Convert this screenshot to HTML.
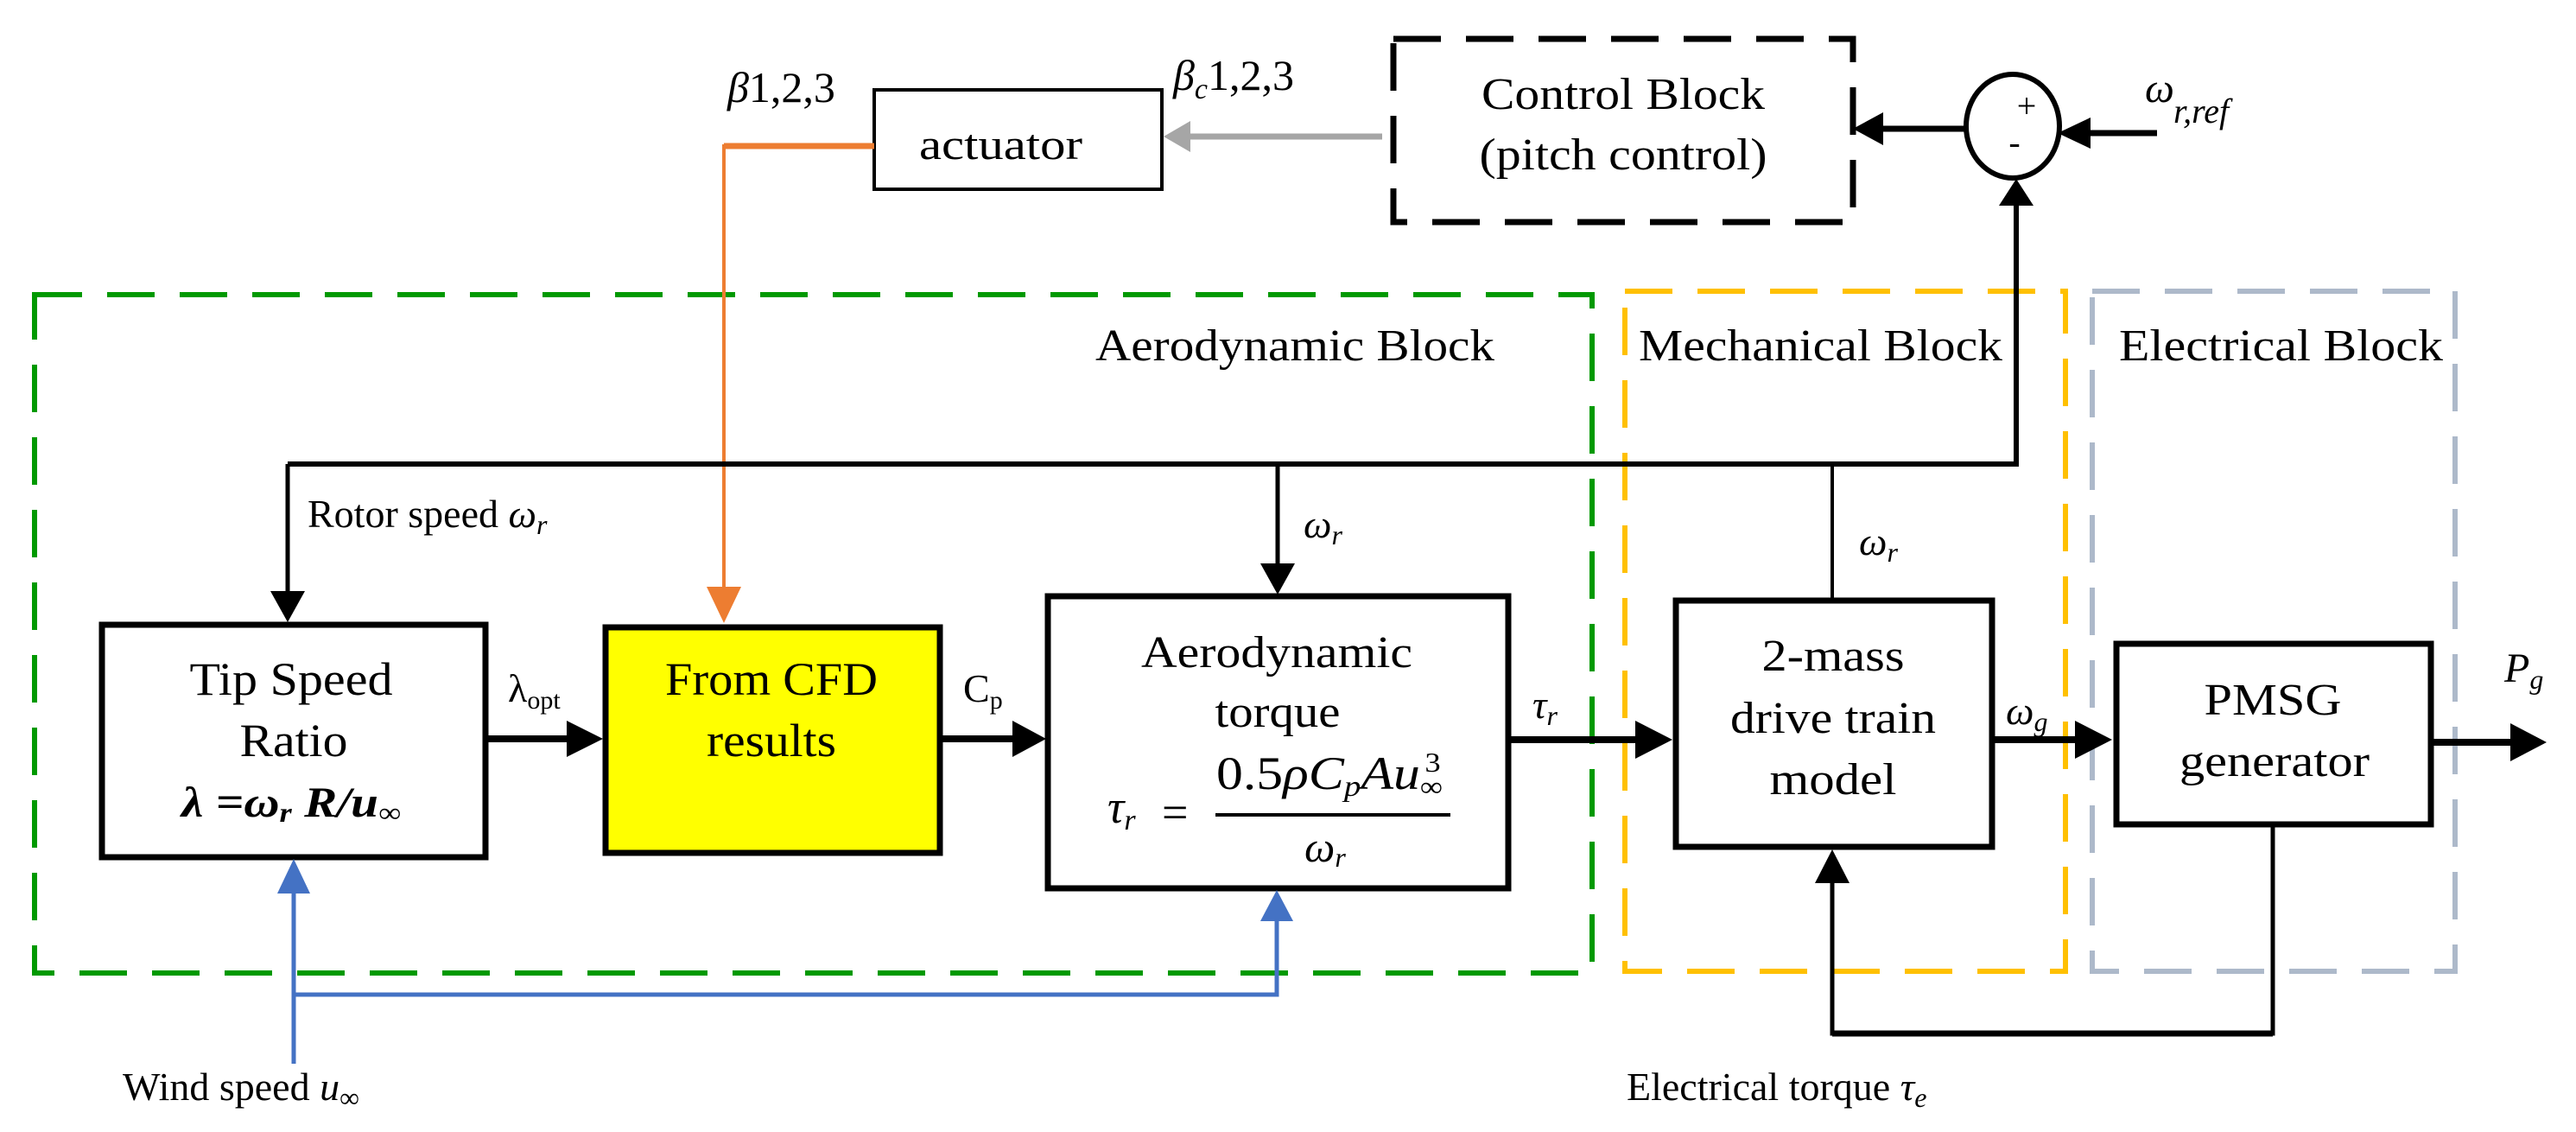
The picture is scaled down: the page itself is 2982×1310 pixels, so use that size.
<!DOCTYPE html>
<html><head><meta charset="utf-8"><style>html,body{margin:0;padding:0;background:#fff}svg{display:block}text{font-family:"Liberation Serif",serif;fill:#000}</style></head><body>
<svg width="2982" height="1310" viewBox="0 0 2982 1310" xmlns="http://www.w3.org/2000/svg">
<rect x="40" y="341" width="1803" height="785" fill="none" stroke="#009900" stroke-width="6" stroke-dasharray="55,29"/>
<rect x="1881" y="337" width="510" height="787" fill="none" stroke="#FFC000" stroke-width="6" stroke-dasharray="55,29"/>
<rect x="2422" y="337" width="420" height="787" fill="none" stroke="#ADB9CA" stroke-width="6" stroke-dasharray="55,29"/>
<rect x="1613" y="45" width="532" height="212" fill="none" stroke="#000" stroke-width="7" stroke-dasharray="55,29"/>
<text x="1879" y="126" font-size="52" text-anchor="middle" textLength="328" lengthAdjust="spacingAndGlyphs">Control Block</text>
<text x="1879" y="196" font-size="52" text-anchor="middle" textLength="333" lengthAdjust="spacingAndGlyphs">(pitch control)</text>
<text x="1268" y="417" font-size="52" textLength="462" lengthAdjust="spacingAndGlyphs">Aerodynamic Block</text>
<text x="1897" y="417" font-size="52" textLength="421" lengthAdjust="spacingAndGlyphs">Mechanical Block</text>
<text x="2453" y="417" font-size="52" textLength="375" lengthAdjust="spacingAndGlyphs">Electrical Block</text>

<rect x="1012" y="104" width="333" height="115" fill="#fff" stroke="#000" stroke-width="4"/>
<text x="1064" y="184" font-size="50" textLength="189" lengthAdjust="spacingAndGlyphs">actuator</text>
<text x="842" y="118" font-size="50"><tspan font-style="italic">β</tspan>1,2,3</text>
<text x="1358" y="104" font-size="50"><tspan font-style="italic">β</tspan><tspan font-style="italic" font-size="34" dy="10">c</tspan><tspan dy="-10">1,2,3</tspan></text>
<line x1="1600" y1="158" x2="1375" y2="158" stroke="#A6A6A6" stroke-width="7"/>
<polygon points="1347,158 1378,140 1378,176" fill="#A6A6A6"/>
<polyline points="1012,169 838,169 838,684" fill="none" stroke="#ED7D31" stroke-width="4"/>
<line x1="838" y1="169" x2="1012" y2="169" stroke="#ED7D31" stroke-width="7"/>
<polygon points="838,721 818,679 858,679" fill="#ED7D31"/>

<ellipse cx="2330" cy="146" rx="54" ry="60" fill="#fff" stroke="#000" stroke-width="6"/>
<text x="2346" y="136" font-size="40" text-anchor="middle">+</text>
<text x="2332" y="178" font-size="40" text-anchor="middle">-</text>
<line x1="2497" y1="154" x2="2410" y2="154" stroke="#000" stroke-width="7"/>
<polygon points="2382,154 2420,136 2420,172" fill="#000"/>
<line x1="2276" y1="149" x2="2180" y2="149" stroke="#000" stroke-width="7"/>
<polygon points="2145,149 2180,130 2180,168" fill="#000"/>
<text x="2483" y="118" font-size="48" font-style="italic">ω</text>
<text x="2516" y="142" font-size="40" font-style="italic">r,ref</text>

<polyline points="333,537 2334,537 2334,236" fill="none" stroke="#000" stroke-width="6"/>
<polygon points="2334,207 2314,238 2354,238" fill="#000"/>
<line x1="333" y1="537" x2="333" y2="690" stroke="#000" stroke-width="5"/>
<polygon points="333,720 313,684 353,684" fill="#000"/>
<line x1="1479" y1="537" x2="1479" y2="660" stroke="#000" stroke-width="5"/>
<polygon points="1479,688 1459,652 1499,652" fill="#000"/>
<line x1="2121" y1="537" x2="2121" y2="693" stroke="#000" stroke-width="4"/>
<text x="356" y="610" font-size="46">Rotor speed <tspan font-style="italic">ω</tspan><tspan font-style="italic" font-size="32" dy="8">r</tspan></text>
<text x="1509" y="622" font-size="46" font-style="italic">ω<tspan font-size="32" dy="8">r</tspan></text>
<text x="2152" y="642" font-size="46" font-style="italic">ω<tspan font-size="32" dy="8">r</tspan></text>

<rect x="118" y="723" width="444" height="269" fill="#fff" stroke="#000" stroke-width="7"/>
<text x="337" y="804" font-size="54" text-anchor="middle" textLength="235" lengthAdjust="spacingAndGlyphs">Tip Speed</text>
<text x="340" y="875" font-size="54" text-anchor="middle" textLength="125" lengthAdjust="spacingAndGlyphs">Ratio</text>
<text x="337" y="945" font-size="50" text-anchor="middle" font-weight="bold" font-style="italic" textLength="254" lengthAdjust="spacingAndGlyphs">λ =ω<tspan font-size="32" dy="6">r</tspan><tspan dy="-6"> R/u</tspan><tspan font-size="32" dy="6">∞</tspan></text>
<rect x="701" y="726" width="387" height="261" fill="#FFFF00" stroke="#000" stroke-width="7"/>
<text x="893" y="804" font-size="54" text-anchor="middle" textLength="246" lengthAdjust="spacingAndGlyphs">From CFD</text>
<text x="893" y="875" font-size="54" text-anchor="middle" textLength="150" lengthAdjust="spacingAndGlyphs">results</text>
<line x1="562" y1="855" x2="672" y2="855" stroke="#000" stroke-width="8"/>
<polygon points="698,855 656,834 656,876" fill="#000"/>
<text x="588" y="812" font-size="46">λ<tspan font-size="30" dy="8">opt</tspan></text>
<line x1="1088" y1="855" x2="1185" y2="855" stroke="#000" stroke-width="8"/>
<polygon points="1211,855 1172,834 1172,876" fill="#000"/>
<text x="1115" y="812" font-size="46">C<tspan font-size="30" dy="8">p</tspan></text>

<rect x="1213" y="690" width="533" height="338" fill="#fff" stroke="#000" stroke-width="7"/>
<text x="1478" y="772" font-size="52" text-anchor="middle" textLength="314" lengthAdjust="spacingAndGlyphs">Aerodynamic</text>
<text x="1479" y="841" font-size="52" text-anchor="middle" textLength="145" lengthAdjust="spacingAndGlyphs">torque</text>
<text x="1282" y="952" font-size="54" font-style="italic">τ<tspan font-size="34" dy="8">r</tspan></text>
<text x="1345" y="958" font-size="54">=</text>
<text x="1408" y="913" font-size="54" textLength="262" lengthAdjust="spacingAndGlyphs"><tspan>0.5</tspan><tspan font-style="italic">ρC</tspan><tspan font-style="italic" font-size="34" dy="8">p</tspan><tspan font-style="italic" dy="-8">Au</tspan><tspan font-size="32" dy="8">∞</tspan><tspan font-size="32" dx="-18" dy="-28">3</tspan></text>
<line x1="1407" y1="943" x2="1679" y2="943" stroke="#000" stroke-width="4"/>
<text x="1510" y="997" font-size="50" font-style="italic">ω<tspan font-size="32" dy="6">r</tspan></text>

<line x1="1746" y1="856" x2="1900" y2="856" stroke="#000" stroke-width="8"/>
<polygon points="1936,856 1893,834 1893,878" fill="#000"/>
<text x="1774" y="831" font-size="46" font-style="italic">τ<tspan font-size="32" dy="8">r</tspan></text>

<rect x="1940" y="695" width="366" height="285" fill="#fff" stroke="#000" stroke-width="7"/>
<text x="2122" y="776" font-size="52" text-anchor="middle" textLength="165" lengthAdjust="spacingAndGlyphs">2-mass</text>
<text x="2122" y="848" font-size="52" text-anchor="middle" textLength="238" lengthAdjust="spacingAndGlyphs">drive train</text>
<text x="2122" y="919" font-size="52" text-anchor="middle" textLength="147" lengthAdjust="spacingAndGlyphs">model</text>

<line x1="2306" y1="856" x2="2415" y2="856" stroke="#000" stroke-width="8"/>
<polygon points="2445,856 2402,834 2402,878" fill="#000"/>
<text x="2322" y="838" font-size="46" font-style="italic">ω<tspan font-size="32" dy="8">g</tspan></text>

<rect x="2450" y="745" width="364" height="209" fill="#fff" stroke="#000" stroke-width="7"/>
<text x="2631" y="827" font-size="52" text-anchor="middle" textLength="159" lengthAdjust="spacingAndGlyphs">PMSG</text>
<text x="2633" y="898" font-size="52" text-anchor="middle" textLength="220" lengthAdjust="spacingAndGlyphs">generator</text>
<line x1="2814" y1="859" x2="2915" y2="859" stroke="#000" stroke-width="8"/>
<polygon points="2948,859 2906,837 2906,881" fill="#000"/>
<text x="2899" y="789" font-size="48" font-style="italic">P<tspan font-size="32" dy="8">g</tspan></text>

<polyline points="2631,954 2631,1196 2121,1196 2121,1015" fill="none" stroke="#000" stroke-width="5"/>
<line x1="2121" y1="1196" x2="2631" y2="1196" stroke="#000" stroke-width="7"/>
<polygon points="2121,983 2101,1022 2141,1022" fill="#000"/>
<text x="1883" y="1273" font-size="46">Electrical torque <tspan font-style="italic">τ</tspan><tspan font-style="italic" font-size="32" dy="8">e</tspan></text>

<polyline points="340,1231 340,1151 1478,1151 1478,1060" fill="none" stroke="#4472C4" stroke-width="5"/>
<line x1="340" y1="1151" x2="340" y2="1030" stroke="#4472C4" stroke-width="5"/>
<polygon points="340,994 321,1034 359,1034" fill="#4472C4"/>
<polygon points="1478,1030 1459,1066 1497,1066" fill="#4472C4"/>
<text x="142" y="1273" font-size="46">Wind speed <tspan font-style="italic">u</tspan><tspan font-size="32" dy="8">∞</tspan></text>
</svg>
</body></html>
